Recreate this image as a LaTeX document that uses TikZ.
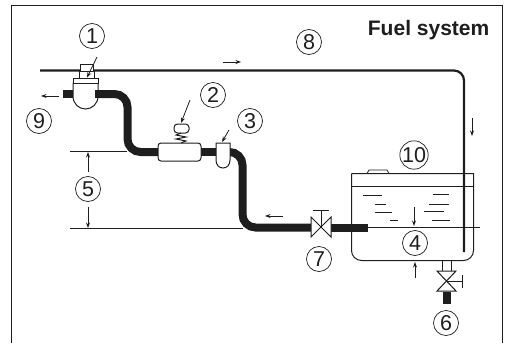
\documentclass[tikz,border=0pt]{standalone}
\usepackage{fontspec}
\setmainfont{Liberation Sans}
\usetikzlibrary{arrows.meta}
\definecolor{ink}{RGB}{30,30,30}
\tikzset{
  num/.style={circle,draw=ink,line width=0.7pt,minimum size=25pt,inner sep=0pt,font=\fontsize{21.5}{21.5}\selectfont,text=ink},
  pipe/.style={draw=ink,line width=8pt,rounded corners=13pt},
  thinline/.style={draw=ink,line width=0.8pt},
  flow/.style={draw=ink,line width=0.8pt,-{Stealth[length=5.5pt,width=4pt]}},
  part/.style={draw=ink,line width=1pt,fill=white},
  ripple/.style={draw=ink,line width=1pt}
}
\begin{document}
\begin{tikzpicture}[x=1pt,y=-1pt]
\useasboundingbox (0,0) rectangle (506,343);
\draw[draw=ink,line width=1pt] (11.5,343) -- (11.5,5.5) -- (502.5,5.5) -- (502.5,343);
\node[anchor=base east,font=\bfseries\fontsize{21}{21}\selectfont,text=ink,inner sep=0pt] (title) at (489.5,35) {Fuel system};
% coordinates
\coordinate (fs) at (40,70.5); \coordinate (fc) at (464,70.5); \coordinate (fe) at (464,252);
\coordinate (p1) at (94,94); \coordinate (p2) at (127.5,94); \coordinate (p3) at (127.5,152); \coordinate (p4) at (158,152);
\coordinate (p5) at (201,152); \coordinate (p6) at (216,152); \coordinate (p7) at (230,152); \coordinate (p8) at (242.5,152);
\coordinate (p9) at (242.5,227.5); \coordinate (p10) at (312,227.5); \coordinate (p11) at (330,227.5); \coordinate (p12) at (368,227.5);
% dimension lines
\draw[thinline] (70,151) -- (127,151);
\draw[thinline] (70,228.5) -- (243,228.5);
\draw[thinline] (368,227.5) -- (480,227.5);
% tank
\draw[draw=ink,line width=1pt] (351.5,173.5) -- (473.5,173.5) [rounded corners=10pt] -- (473.5,260.5) -- (351.5,260.5) -- (351.5,173.5);
\draw[thinline] (351.5,186.5) -- (473.5,186.5);
\draw[thinline] (367,173.5) -- (369,170) -- (387,170) -- (389,173.5);
\draw[ripple] (363,195) -- (382,195);
\draw[ripple] (375,204.5) -- (386,204.5);
\draw[ripple] (375,212) -- (392,212);
\draw[ripple] (390,220) -- (398,220);
\draw[ripple] (433,194.5) -- (449,194.5);
\draw[ripple] (429,204) -- (449,204);
\draw[ripple] (424,211) -- (444,211);
\draw[ripple] (432,220) -- (450,220);
% fuel return line
\draw[draw=ink,line width=2.2pt,rounded corners=10pt] (fs) -- (fc) -- (fe);
% pipes
\draw[pipe] (p1) -- (p2) -- (p3) -- (p4);
\draw[pipe] (p5) -- (p6);
\draw[pipe] (p7) -- (p8) -- (p9) -- (p10);
\draw[pipe] (p11) -- (p12);
\draw[draw=ink,line width=8pt] (63,94) -- (73,94);
% valve 1
\draw[part] (80,64.5) rectangle (93,71);
\draw[part] (79,71) rectangle (94,78);
\draw[part] (73,83) -- (73,96) .. controls (73,104) and (79,109) .. (85.5,109) .. controls (92,109) and (98,104) .. (98,96) -- (98,83) -- cycle;
\draw[part] (73,78) rectangle (98,83);
\draw[draw=ink,line width=8pt] (95,94) -- (99,94);
\draw[flow] (97,57) -- (87,77.5);
% filter 2
\draw[part,rounded corners=3pt] (158,143) rectangle (201,161);
\draw[part,rounded corners=3.5pt] (174,124) rectangle (189,133);
\draw[draw=ink,line width=1pt] (181,133) -- (176,135) -- (186,137) -- (176,139) -- (186,141) -- (181,143);
\draw[flow] (190,100) -- (181,123);
% part 3
\draw[part] (216,143) -- (230,143) -- (230,160) .. controls (230,165) and (227,168) .. (223,168) .. controls (219,168) and (216,165) .. (216,160) -- cycle;
\draw[flow] (229,130) -- (222,142);
% valve 7
\draw[part] (311,217) -- (331,237) -- (331,217) -- (311,237) -- cycle;
\draw[thinline] (321,227) -- (321,210);
\draw[draw=ink,line width=1pt] (313,210) -- (329,210);
% drain
\draw[thinline] (442,261) -- (442,271);
\draw[thinline] (451,261) -- (451,271);
\draw[part] (437,271) -- (456,291) -- (437,291) -- (456,271) -- cycle;
\draw[thinline] (447,281) -- (462,281);
\draw[thinline] (462,275) -- (462,288);
\draw[draw=ink,line width=8pt] (447,291.5) -- (447,304);
% flow arrows
\draw[flow] (223,62) -- (241,62);
\draw[flow] (59,96) -- (41,96);
\draw[flow] (283,216) -- (265,216);
\draw[flow] (472,118) -- (472,136);
\draw[flow] (414,207) -- (414,226);
\draw[flow] (415,278) -- (415,262);
\draw[flow] (88,172) -- (88,152);
\draw[flow] (88,207) -- (88,228);
% labels
\node[num] (n1) at (92,36) {1};
\node[num] (n2) at (213,95) {2};
\node[num] (n3) at (250,121) {3};
\node[num] (n4) at (415,243) {4};
\node[num] (n5) at (88,189) {5};
\node[num] (n6) at (446,323) {6};
\node[num] (n7) at (319,259) {7};
\node[num] (n8) at (309,42) {8};
\node[num] (n9) at (39,121) {9};
\node[num] (n10) at (414,155) {10};
\end{tikzpicture}
\end{document}
